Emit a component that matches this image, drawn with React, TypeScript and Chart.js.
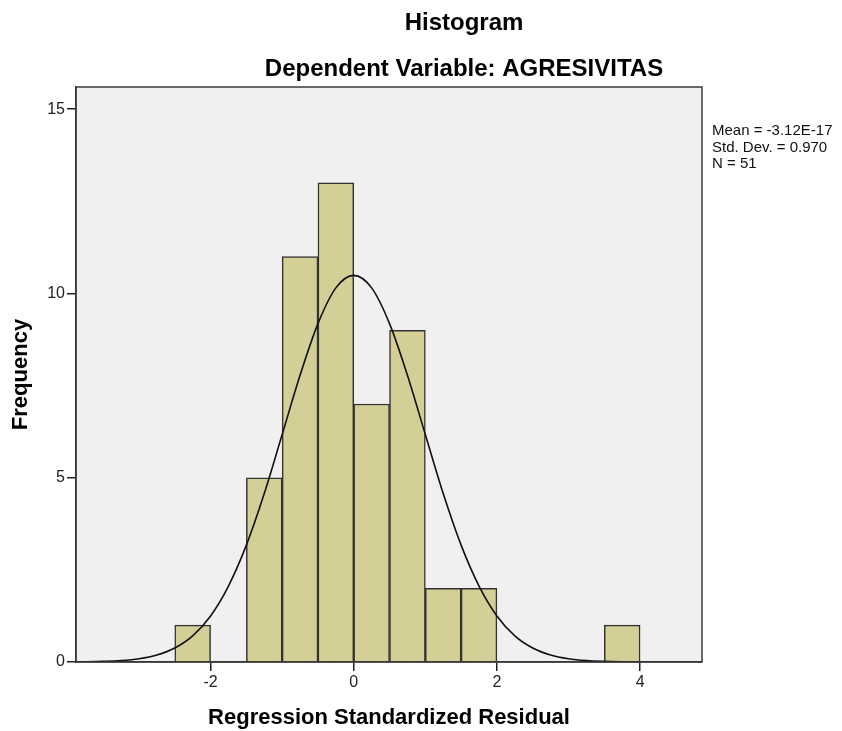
import React, { useEffect, useRef } from "react";
import { Chart, registerables } from "chart.js";

Chart.register(...registerables);

// ---- data ----
const binStarts = [-2.5, -1.5, -1.0, -0.5, 0.0, 0.5, 1.0, 1.5, 3.5];
const binCounts = [1, 5, 11, 13, 7, 9, 2, 2, 1];
const binWidth = 0.5;

// normal curve
const curveX = [-3.875, -3.75, -3.5, -3.25, -3, -2.75, -2.5, -2.25, -2, -1.75, -1.5, -1.25, -1, -0.75, -0.5, -0.25, 0, 0.25, 0.5, 0.75, 1, 1.25, 1.5, 1.75, 2, 2.25, 2.5, 2.75, 3, 3.25, 3.5, 3.75, 4, 4.25, 4.5, 4.865];
const curveY = [0.004, 0.006, 0.016, 0.038, 0.088, 0.19, 0.38, 0.71, 1.25, 2.06, 3.17, 4.57, 6.17, 7.78, 9.18, 10.15, 10.49, 10.15, 9.18, 7.78, 6.17, 4.57, 3.17, 2.06, 1.25, 0.71, 0.38, 0.19, 0.088, 0.038, 0.016, 0.006, 0.002, 0.001, 0.0002, 0];

const xTicks = [-2, 0, 2, 4];
const yTicks = [0, 5, 10, 15];
const xRange = [-3.88, 4.865];
const yRange = [0, 15.6];

const titleText = "Histogram";
const subtitleText = "Dependent Variable: AGRESIVITAS";
const statsLines = ["Mean = -3.12E-17", "Std. Dev. = 0.970", "N = 51"];
const xTitle = "Regression Standardized Residual";
const yTitle = "Frequency";

const FONT = "'Liberation Sans', Arial, Helvetica, sans-serif";

const framePlugin = {
  id: "frame",
  beforeDraw(chart: any) {
    const { ctx, chartArea } = chart;
    const { left, top, right, bottom } = chartArea;
    ctx.save();
    ctx.fillStyle = "#F0F0F0";
    ctx.fillRect(left, top, right - left, bottom - top);
    ctx.restore();
  },
  afterDraw(chart: any) {
    const { ctx, chartArea } = chart;
    const { left, top, right, bottom } = chartArea;
    ctx.save();
    ctx.strokeStyle = "#3a3a3a";
    ctx.lineWidth = 1.5;
    ctx.strokeRect(left, top, right - left, bottom - top);

    ctx.fillStyle = "#000";
    ctx.textAlign = "center";
    ctx.textBaseline = "alphabetic";
    ctx.font = `bold 24px ${FONT}`;
    const cx = (left + chart.width) / 2 + 5;
    ctx.fillText(titleText, cx, 30);
    ctx.fillText(subtitleText, cx, 76);

    ctx.font = `15px ${FONT}`;
    ctx.textAlign = "left";
    ctx.fillStyle = "#111";
    statsLines.forEach((s, i) => {
      ctx.fillText(s, right + 10, 135 + i * 16.5);
    });
    ctx.restore();
  },
};

export default function App() {
  const ref = useRef<HTMLCanvasElement | null>(null);

  useEffect(() => {
    if (!ref.current) return;
    const barData = binStarts.map((s, i) => ({ x: s + binWidth / 2, y: binCounts[i] }));
    const lineData = curveX.map((x, i) => ({ x, y: curveY[i] }));

    const chart = new Chart(ref.current, {
      type: "bar",
      data: {
        datasets: [
          {
            type: "line",
            data: lineData,
            borderColor: "#111",
            borderWidth: 1.6,
            pointRadius: 0,
            cubicInterpolationMode: "monotone",
            fill: false,
            order: 0,
          } as any,
          {
            type: "bar",
            data: barData,
            backgroundColor: "#D3CF97",
            borderColor: "#333",
            borderWidth: 1.5,
            barPercentage: 1,
            categoryPercentage: 1,
            grouped: false,
            order: 1,
          } as any,
        ],
      },
      options: {
        animation: false,
        responsive: false,
        layout: { padding: { top: 87, right: 140, left: 0, bottom: 0 } },
        plugins: {
          legend: { display: false },
          title: { display: false },
          tooltip: { enabled: false },
        },
        scales: {
          x: {
            type: "linear",
            offset: false,
            min: xRange[0],
            max: xRange[1],
            afterBuildTicks: (s: any) => {
              s.ticks = xTicks.map((v) => ({ value: v }));
            },
            afterFit: (s: any) => {
              s.height = 69;
            },
            grid: {
              display: true,
              offset: false,
              drawOnChartArea: false,
              drawTicks: true,
              tickLength: 9,
              color: "#222",
              lineWidth: 1.5,
            },
            border: { display: true, color: "#333", width: 1.5 },
            ticks: {
              padding: 2,
              color: "#222",
              font: { family: FONT, size: 16 },
              maxRotation: 0,
            },
            title: {
              display: true,
              text: xTitle,
              color: "#000",
              font: { family: FONT, size: 22, weight: "bold" },
              padding: { top: 0, bottom: 0 },
            },
          },
          y: {
            type: "linear",
            min: yRange[0],
            max: yRange[1],
            afterBuildTicks: (s: any) => {
              s.ticks = yTicks.map((v) => ({ value: v }));
            },
            afterFit: (s: any) => {
              s.width = 76;
            },
            grid: {
              display: true,
              drawOnChartArea: false,
              drawTicks: true,
              tickLength: 9,
              color: "#222",
              lineWidth: 1.5,
            },
            border: { display: true, color: "#333", width: 1.5 },
            ticks: {
              padding: 2,
              color: "#222",
              font: { family: FONT, size: 16 },
            },
            title: {
              display: true,
              text: yTitle,
              color: "#000",
              font: { family: FONT, size: 22, weight: "bold" },
              padding: { top: 8, bottom: 0 },
            },
          },
        },
      } as any,
      plugins: [framePlugin],
    });
    return () => chart.destroy();
  }, []);

  return (
    <div style={{ position: "absolute", left: 0, top: 0, width: 842, height: 731 }}>
      <canvas ref={ref} width={842} height={731} style={{ width: 842, height: 731 }} />
    </div>
  );
}
